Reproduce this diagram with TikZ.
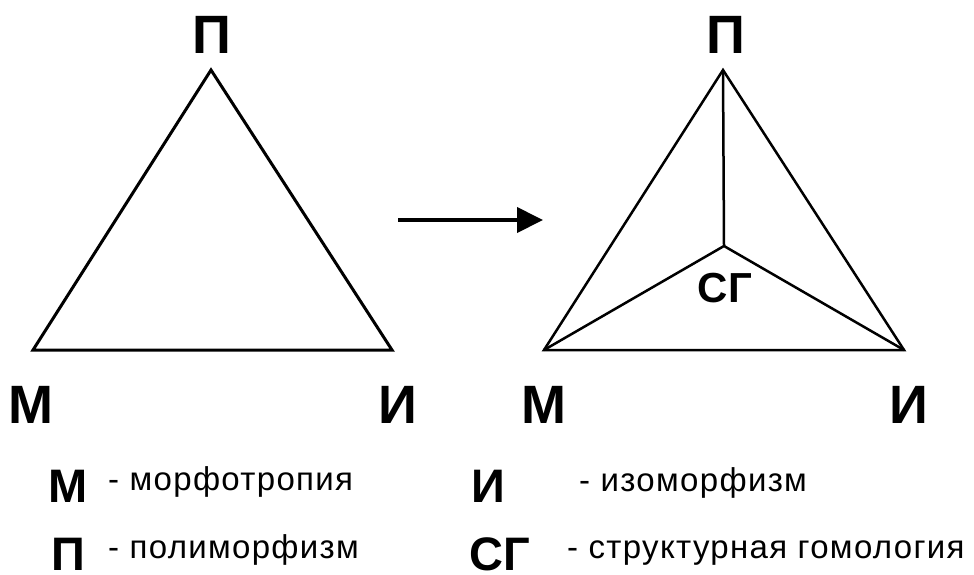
\documentclass[tikz,border=0pt]{standalone}
\usepackage{fontspec}
\setmainfont{Liberation Sans}
\newfontfamily\legfont[LetterSpace=4]{Liberation Sans}
\usetikzlibrary{arrows.meta}
\tikzset{
  big/.style={font=\fontsize{54}{54}\selectfont\bfseries, inner sep=0pt, anchor=base},
  legkey/.style={font=\fontsize{47}{47}\selectfont\bfseries, inner sep=0pt, anchor=base},
  legtext/.style={font=\legfont\fontsize{33}{33}\selectfont, inner sep=0pt, anchor=base west},
  edge/.style={line width=3pt, line join=miter},
  thin edge/.style={line width=2.5pt, line join=miter}
}
\begin{document}
\begin{tikzpicture}[x=1pt,y=-1pt]
\useasboundingbox (0,0) rectangle (974,574);
% left triangle
\coordinate (LP) at (211,70);
\coordinate (LM) at (33,350);
\coordinate (LI) at (392,350);
\draw[edge] (LP) -- (LM) -- (LI) -- cycle;
\node[big] (lP) at (212,53) {П};
\node[big] (lM) at (31,423) {М};
\node[big] (lI) at (398,423) {И};
% arrow
\coordinate (A1) at (398,220);
\coordinate (A2) at (543,220);
\draw[line width=4pt, -{Triangle[length=26pt,width=25pt]}] (A1) -- (A2);
% right triangle
\coordinate (RP) at (723,70);
\coordinate (RM) at (544,350);
\coordinate (RI) at (904,350);
\coordinate (RC) at (724,246);
\draw[thin edge] (RP) -- (RM) -- (RI) -- cycle;
\draw[thin edge] (RP) -- (RC);
\draw[thin edge] (RM) -- (RC) -- (RI);
\node[font=\fontsize{42}{42}\selectfont\bfseries, inner sep=0pt, anchor=base] (SG) at (725,302) {СГ};
\node[big] (rP) at (726,53) {П};
\node[big] (rM) at (544,423) {М};
\node[big] (rI) at (909,423) {И};
% legend
\node[legkey] (kM) at (68,502) {М};
\node[legtext] (tM) at (108,490) {- морфотропия};
\node[legkey] (kP) at (68,570) {П};
\node[legtext] (tP) at (108,558) {- полиморфизм};
\node[legkey] (kI) at (488,502) {И};
\node[legtext] (tI) at (579,491) {- изоморфизм};
\node[legkey] (kS) at (500,570) {СГ};
\node[legtext] (tS) at (567,558) {- структурная гомология};
\end{tikzpicture}
\end{document}
